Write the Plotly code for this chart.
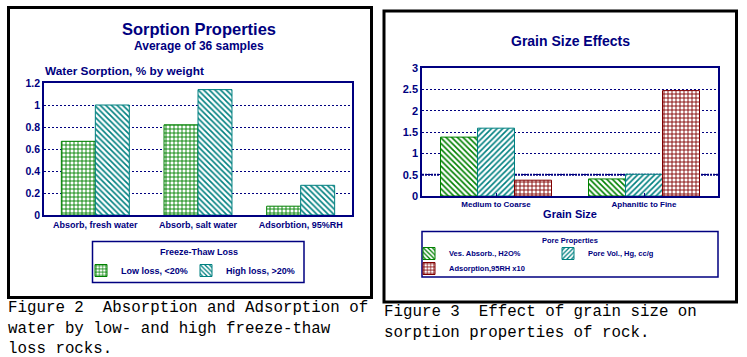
import plotly.graph_objects as go

W, H = 747, 357
def px(x): return x / W
def py(y): return 1 - y / H

NAVY = "#000080"
GREEN = "#008000"
TEAL = "#008080"
RED = "#800000"
SANS = "Liberation Sans, Arial, sans-serif"
MONO = "Courier New, Liberation Mono, monospace"

# ---- Figure 2 data ----
sorption_categories = ["Absorb, fresh water", "Absorb, salt water", "Adsorbtion, 95%RH"]
low_loss = [0.67, 0.82, 0.08]
high_loss = [1.0, 1.14, 0.27]
sorption_tickvals = [0, 0.2, 0.4, 0.6, 0.8, 1.0, 1.2]
sorption_ticktext = ["0", "0.2", "0.4", "0.6", "0.8", "1", "1.2"]

# ---- Figure 3 data ----
grain_categories = ["Medium to Coarse", "Aphanitic to Fine"]
ves_absorb = [1.38, 0.40]
pore_vol = [1.59, 0.51]
adsorption_x10 = [0.37, 2.47]
grain_tickvals = [0, 0.5, 1, 1.5, 2, 2.5, 3]
grain_ticktext = ["0", "0.5", "1", "1.5", "2", "2.5", "3"]


def patt(shape, color, size=4, solidity=0.4):
    return dict(color="white", line=dict(color=color, width=1),
                pattern=dict(shape=shape, fgcolor=color, bgcolor="white",
                             size=size, solidity=solidity, fillmode="replace"))


fig = go.Figure()
w1 = 0.331
fig.add_trace(go.Bar(x=sorption_categories, y=low_loss, name="Low loss, <20%",
                     xaxis="x", yaxis="y", offset=-w1, width=w1, showlegend=True,
                     marker=patt("+", GREEN), legend="legend"))
fig.add_trace(go.Bar(x=sorption_categories, y=high_loss, name="High loss, >20%",
                     xaxis="x", yaxis="y", offset=0, width=w1, showlegend=True,
                     marker=patt("\\", TEAL), legend="legend4"))

w2 = 0.25
fig.add_trace(go.Bar(x=grain_categories, y=ves_absorb, name="Ves. Absorb., H2O%",
                     xaxis="x2", yaxis="y2", offset=-1.5 * w2, width=w2, showlegend=True,
                     marker=patt("\\", GREEN), legend="legend2"))
fig.add_trace(go.Bar(x=grain_categories, y=pore_vol, name="Pore Vol., Hg, cc/g",
                     xaxis="x2", yaxis="y2", offset=-0.5 * w2, width=w2, showlegend=True,
                     marker=patt("/", TEAL), legend="legend2"))
fig.add_trace(go.Bar(x=grain_categories, y=adsorption_x10, name="Adsorption,95RH x10",
                     xaxis="x2", yaxis="y2", offset=0.5 * w2, width=w2, showlegend=True,
                     marker=patt("+", RED), legend="legend3"))

axis_common = dict(showline=True, mirror=True, linecolor=NAVY, linewidth=1.5,
                   zeroline=False, automargin=False)
leg_common = dict(xanchor="left", yanchor="top", orientation="h",
                  bgcolor="rgba(0,0,0,0)", borderwidth=0, visible=True)

fig.update_layout(
    width=W, height=H, margin=dict(l=0, r=0, t=0, b=0, pad=0, autoexpand=False),
    paper_bgcolor="white", plot_bgcolor="white", barmode="overlay",
    showlegend=True,
    font=dict(family=SANS, color=NAVY),
    xaxis=dict(domain=[px(44), px(352)], anchor="y", showgrid=False, ticks="",
               tickfont=dict(size=9, weight="bold", color=NAVY), **axis_common),
    yaxis=dict(domain=[py(215), py(83)], anchor="x", range=[0, 1.2],
               tickvals=sorption_tickvals, ticktext=sorption_ticktext,
               showgrid=True, gridcolor=NAVY, griddash="2px,2px", gridwidth=1,
               ticks="", tickfont=dict(size=10.5, weight="bold", color=NAVY),
               **axis_common),
    xaxis2=dict(domain=[px(422), px(718)], anchor="y2", showgrid=False,
                ticks="inside", ticklen=3, tickcolor=NAVY,
                tickfont=dict(size=8, weight="bold", color=NAVY),
                title=dict(text="Grain Size", standoff=2,
                           font=dict(size=11, weight="bold", color=NAVY)),
                **axis_common),
    yaxis2=dict(domain=[py(196), py(68)], anchor="x2", range=[0, 3],
                tickvals=grain_tickvals, ticktext=grain_ticktext,
                showgrid=True, gridcolor=NAVY, griddash="2px,2px", gridwidth=1,
                ticks="", tickfont=dict(size=11, weight="bold", color=NAVY),
                **axis_common),
    legend=dict(x=px(81), y=py(256), font=dict(size=9, weight="bold", color=NAVY),
                **leg_common),
    legend4=dict(x=px(186), y=py(256), font=dict(size=9, weight="bold", color=NAVY),
                 **leg_common),
    legend2=dict(x=px(409), y=py(239), entrywidth=94,
                 font=dict(size=7.5, weight="bold", color=NAVY), **leg_common),
    legend3=dict(x=px(409), y=py(254),
                 font=dict(size=7.5, weight="bold", color=NAVY), **leg_common),
)

shapes = [
    # panel frames
    dict(type="rect", xref="paper", yref="paper", x0=px(8.5), x1=px(371.5),
         y0=py(297.5), y1=py(7.5), line=dict(color="black", width=3)),
    dict(type="rect", xref="paper", yref="paper", x0=px(384), x1=px(736.5),
         y0=py(302), y1=py(11), line=dict(color="black", width=3)),
    # legend boxes
    dict(type="rect", xref="paper", yref="paper", x0=px(92.5), x1=px(304),
         y0=py(282.5), y1=py(241.5), line=dict(color=NAVY, width=1.5)),
    dict(type="rect", xref="paper", yref="paper", x0=px(422), x1=px(718),
         y0=py(277), y1=py(231.5), line=dict(color=NAVY, width=1.5)),
    # heavier first gridline on the grain size chart
    dict(type="line", xref="x2 domain", yref="y2", x0=0, x1=1,
         y0=grain_tickvals[1], y1=grain_tickvals[1], layer="below",
         line=dict(color=NAVY, width=2, dash="2px,1px")),
]

def ann(text, x, y, size, xanchor="center", family=SANS, weight="bold",
        color=NAVY, align="center"):
    return dict(text=text, x=px(x), y=py(y), xref="paper", yref="paper",
                xanchor=xanchor, yanchor="middle", showarrow=False, align=align,
                font=dict(family=family, size=size, weight=weight, color=color))

cap = dict(xanchor="left", family=MONO, weight="normal", color="black", align="left")
annotations = [
    ann("Sorption Properties", 199, 29, 16.5),
    ann("Average of 36 samples", 199, 46, 12),
    ann("Water Sorption, % by weight", 43, 71, 11.8, xanchor="left"),
    ann("Freeze-Thaw Loss", 199, 252, 9),
    ann("Grain Size Effects", 570, 41, 14),
    ann("Pore Properties", 570, 240, 7.5),
    ann("Figure 2  Absorption and Adsorption of<br>water by low- and high freeze-thaw<br>loss rocks.",
        6, 328, 15.8, **cap),
    ann("Figure 3  Effect of grain size on<br>sorption properties of rock.",
        382, 322.5, 15.8, **cap),
]

fig.update_layout(shapes=shapes, annotations=annotations)
fig.write_html("out.html", config={"responsive": False, "displayModeBar": False},
               post_script="document.body.style.margin='0';document.body.style.overflow='hidden';")
